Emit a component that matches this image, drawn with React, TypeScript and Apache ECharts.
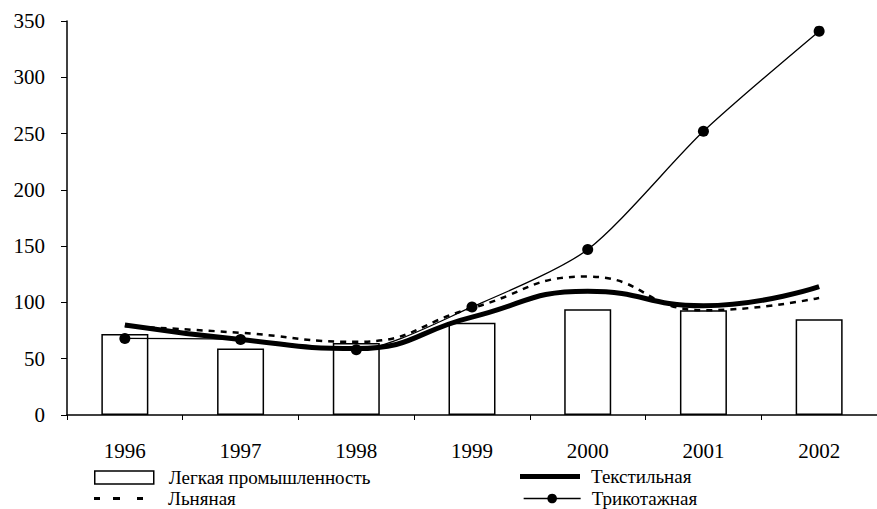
import React, { useEffect, useRef } from "react";
import * as echarts from "echarts";

const years = ["1996", "1997", "1998", "1999", "2000", "2001", "2002"];
const legkaya = [72, 59, 64, 82, 94, 93, 85];
const tekstil = [80, 67, 59, 87, 110, 97, 114];
const lnyanaya = [79, 73, 65, 95, 123, 93, 104];
const trikotazh = [68, 67, 58, 96, 147, 252, 341];

const FONT = "serif";
const FS = 21;
const LFS = 19;

export default function App() {
  const ref = useRef<HTMLDivElement>(null);
  useEffect(() => {
    const chart = echarts.init(ref.current!, undefined, { renderer: "svg" });
    const legendBase = {
      orient: "horizontal" as const,
      selectedMode: false,
      symbolKeepAspect: false,
      padding: 0,
    };
    const txt = (padLeft: number) => ({
      fontFamily: FONT,
      fontSize: LFS,
      lineHeight: 18,
      color: "#000",
      padding: [0, 0, 0, padLeft],
    });
    chart.setOption({
      animation: false,
      backgroundColor: "#fff",
      textStyle: { fontFamily: FONT },
      grid: { left: 67, right: 0, top: 21, bottom: 94 },
      legend: [
        {
          ...legendBase,
          left: 94,
          top: 468,
          itemWidth: 59,
          itemHeight: 13,
          data: [{ name: "Легкая промышленность", icon: "rect" }],
          itemStyle: { color: "#fff", borderColor: "#000", borderWidth: 1.5 },
          textStyle: txt(10),
        },
        {
          ...legendBase,
          left: 94,
          top: 489,
          itemWidth: 49,
          itemHeight: 3,
          data: [
            {
              name: "Льняная",
              icon: "path://M0,0h6v3h-6zM19,0h7v3h-7zM43,0h6v3h-6z",
            },
          ],
          itemStyle: { color: "#000", borderWidth: 0 },
          textStyle: txt(20),
        },
        {
          ...legendBase,
          left: 520,
          top: 467,
          itemWidth: 60,
          itemHeight: 5,
          data: [{ name: "Текстильная", icon: "rect" }],
          itemStyle: { color: "#000", borderWidth: 0 },
          textStyle: txt(6),
        },
        {
          ...legendBase,
          left: 523,
          top: 489,
          itemWidth: 57,
          itemHeight: 12,
          data: ["Трикотажная"],
          lineStyle: { width: 1.3, color: "#000" },
          itemStyle: { color: "#000" },
          textStyle: txt(6),
        },
      ],
      xAxis: {
        type: "category",
        data: years,
        boundaryGap: true,
        axisLine: { lineStyle: { color: "#000", width: 1.5 } },
        axisTick: { show: true, length: 5, lineStyle: { color: "#000" } },
        axisLabel: { color: "#000", fontFamily: FONT, fontSize: FS, margin: 25 },
      },
      yAxis: {
        type: "value",
        min: 0,
        max: 350,
        interval: 50,
        splitLine: { show: false },
        axisLine: { show: true, lineStyle: { color: "#000", width: 1.5 } },
        axisTick: { show: true, length: 6, lineStyle: { color: "#000" } },
        axisLabel: { color: "#000", fontFamily: FONT, fontSize: FS, margin: 22 },
      },
      series: [
        {
          name: "Легкая промышленность",
          type: "bar",
          data: legkaya,
          barWidth: 47,
          itemStyle: { color: "#fff", borderColor: "#000", borderWidth: 1.5 },
          z: 1,
        },
        {
          name: "Льняная",
          type: "line",
          data: lnyanaya,
          smooth: 0.5,
          symbol: "none",
          lineStyle: { color: "#000", width: 2.5, type: [6, 6] },
          itemStyle: { color: "#000" },
          z: 3,
        },
        {
          name: "Текстильная",
          type: "line",
          data: tekstil,
          smooth: 0.5,
          symbol: "none",
          lineStyle: { color: "#000", width: 5 },
          itemStyle: { color: "#000" },
          z: 4,
        },
        {
          name: "Трикотажная",
          type: "line",
          data: trikotazh,
          smooth: 0.25,
          symbol: "circle",
          symbolSize: 11,
          showSymbol: true,
          lineStyle: { color: "#000", width: 1.3 },
          itemStyle: { color: "#000" },
          z: 5,
        },
      ],
    });
    return () => chart.dispose();
  }, []);
  return (
    <div
      ref={ref}
      style={{ position: "absolute", left: 0, top: 0, width: 877, height: 509 }}
    />
  );
}
